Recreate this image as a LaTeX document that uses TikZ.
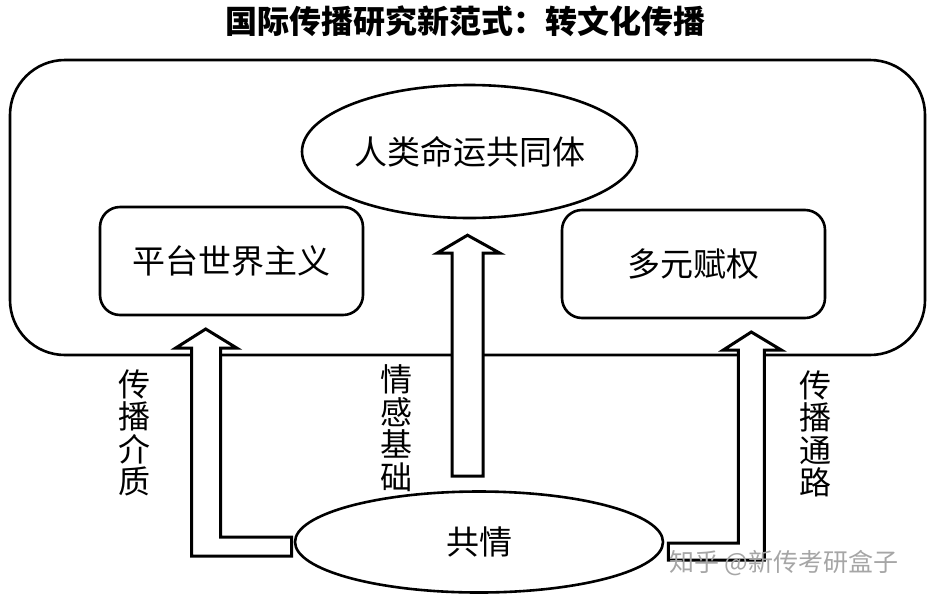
\documentclass[tikz,border=0pt]{standalone}
\usepackage{fontspec}
\usepackage{tikz}
\usetikzlibrary{positioning,calc,shapes.geometric}
\newfontfamily\cjk{Noto Sans CJK SC}

\begin{document}
\begin{tikzpicture}[x=1pt,y=-1pt,
			frame/.style={rectangle, draw=black, line width=2.6pt, rounded corners=55pt, minimum width=915pt, minimum height=295pt},
			goal/.style={ellipse, draw=black, line width=2.6pt, fill=white, inner sep=0pt, font=\cjk\fontsize{33}{33}\selectfont},
			pillar/.style={rectangle, draw=black, line width=2.6pt, rounded corners=20pt, minimum width=263pt, minimum height=108pt, font=\cjk\fontsize{33}{33}\selectfont},
			label/.style={align=center, inner sep=0pt, font=\cjk\fontsize{32}{32.5}\selectfont},
			hollow/.style={draw=black, line width=3pt, fill=white, line join=miter},
			]
			\useasboundingbox[fill=white] (0,0) rectangle (936,603);
			%Nodes
				\node[font=\cjk\bfseries\fontsize{32}{32}\selectfont]	(title)	at (465,21)	{国际传播研究新范式：转文化传播};
				\node[frame]		(frame)		at (467.5,207.5)	{};
				\node[goal, minimum width=335pt, minimum height=133pt]	(community)	at (469.5,151.5)	{人类命运共同体};
				\node[pillar]		(platform)	at (231.5,261)		{平台世界主义};
				\node[pillar]		(empower)	at (693.5,264)		{多元赋权};
				\node[goal, minimum width=368pt, minimum height=101pt]	(empathy)	at (479,542)	{共情};
				\node[label]		(medium)	at (134,433)		{传\\播\\介\\质};
				\node[label]		(emotion)	at (396.5,428)		{情\\感\\基\\础};
				\node[label]		(channel)	at (815,434)		{传\\播\\通\\路};

			%Lines
				\draw[hollow] ($(empathy.west)+(-2,-5)$) -- ++(-71,0) -- ++(0,-189) -- ++(16,0) -- ++(-31,-19) -- ++(-30,19) -- ++(16,0) -- ++(0,208) -- ++(100,0) -- cycle;
				\draw[hollow] ($(empathy.north)+(-27,-14)$) -- ++(0,-223) -- ++(-15,0) -- ++(30.5,-18) -- ++(32.5,18) -- ++(-17,0) -- ++(0,223) -- cycle;
				\draw[hollow] ($(empathy.east)+(4,1)$) -- ++(70,0) -- ++(0,-193) -- ++(-15,0) -- ++(28,-18) -- ++(30,18) -- ++(-17,0) -- ++(0,210) -- ++(-96,0) -- cycle;

			%Watermark
				\node[text=black!35, font=\cjk\fontsize{25}{25}\selectfont]	(mark)	at (784,563)	{知乎 @新传考研盒子};
		\end{tikzpicture}
\end{document}
